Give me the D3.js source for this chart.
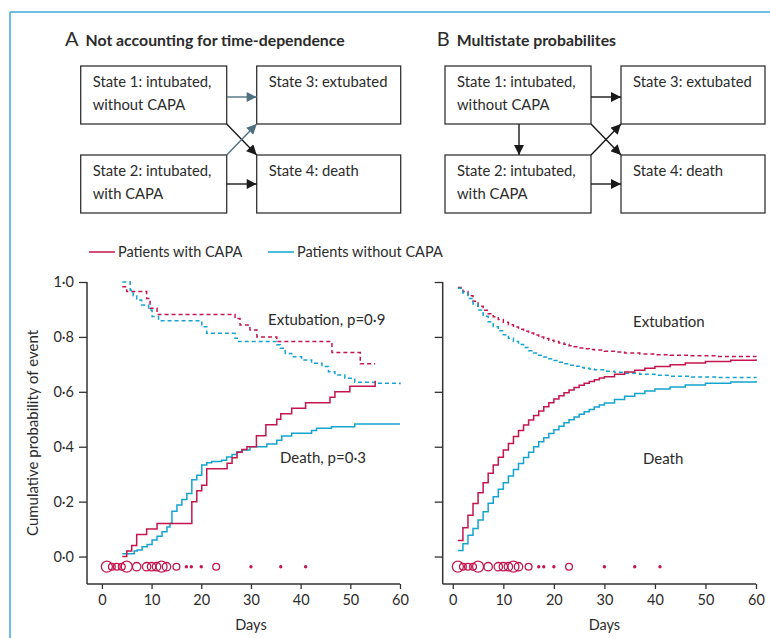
<!DOCTYPE html>
<html>
<head>
<meta charset="utf-8">
<script src="https://d3js.org/d3.v7.min.js"></script>
<style>
  body { margin: 0; background: #fff; }
  svg text { font-family: Lato, "Open Sans", sans-serif; fill: #2b2b2b; }
</style>
</head>
<body>
<svg id="chart" width="770" height="638"></svg>
<script>
// ---- data ----
const xTicks = [0, 10, 20, 30, 40, 50, 60];
const yTicks = [0, 0.2, 0.4, 0.6, 0.8, 1.0];

// panel A: Kaplan-Meier style, [day, cumulative probability]
const leftExtubCapa = [[4.1,0.983],[5,0.965],[9,0.94],[9.7,0.904],[11.1,0.882],[26.8,0.867],[27.8,0.843],
  [29.8,0.825],[31.2,0.80],[35.2,0.783],[46.3,0.743],[52,0.702],[55,0.702]];
const leftExtubNoCapa = [[4.1,1.0],[5.7,0.97],[6.3,0.95],[7,0.934],[8,0.916],[9.4,0.898],[10.1,0.874],[11.4,0.859],
  [20.1,0.837],[21.1,0.813],[26.8,0.795],[27.5,0.783],[35.2,0.771],[35.9,0.759],[36.9,0.74],[38.2,0.728],
  [40.2,0.716],[42.2,0.704],[44.3,0.692],[45.6,0.673],[46.9,0.661],[48.9,0.649],[50.9,0.635],[55,0.631],[60,0.628]];
const leftDeathCapa = [[4.1,0],[5,0.02],[6,0.04],[7,0.08],[9,0.1],[11.1,0.12],[18.1,0.2],[19.1,0.24],[20.1,0.26],
  [21.1,0.32],[25.2,0.34],[26.2,0.36],[27.2,0.38],[28.2,0.39],[29.2,0.40],[31.1,0.44],[33,0.48],[35.2,0.50],
  [36,0.52],[38.2,0.54],[41,0.56],[45.9,0.58],[46.9,0.60],[49.9,0.62],[55,0.64]];
const leftDeathNoCapa = [[4.1,0.01],[6.5,0.02],[7.1,0.024],[8.1,0.036],[9.1,0.044],[10.1,0.06],[11.1,0.074],
  [12.1,0.09],[13.1,0.108],[13.7,0.12],[14.1,0.165],[15.1,0.188],[16.1,0.208],[17.1,0.23],[18.1,0.28],
  [19.1,0.296],[20.1,0.333],[21.1,0.342],[22.1,0.346],[24.1,0.351],[25.1,0.363],[26.2,0.372],[27.2,0.382],
  [28.2,0.388],[29.8,0.4],[33.2,0.41],[35.2,0.424],[36.2,0.439],[38.2,0.449],[42.2,0.459],[43.2,0.467],
  [46.2,0.473],[50.9,0.483],[60,0.483]];

// panel B: multistate probabilities
const rightExtubCapa = [[1,0.98],[2,0.965],[3,0.95],[4,0.93],[5,0.912],[6,0.897],[7,0.884],[8,0.873],[9,0.863],
  [10,0.853],[11,0.844],[12,0.836],[13,0.828],[14,0.821],[15,0.814],[16,0.807],[17,0.8],[18,0.794],[19,0.788],
  [20,0.783],[21,0.778],[22,0.773],[23,0.768],[24,0.764],[25,0.76],[26,0.757],[27,0.754],[28,0.752],[30,0.748],
  [32,0.745],[34,0.741],[37,0.738],[40,0.735],[43,0.733],[47,0.731],[52,0.729],[60,0.728]];
const rightExtubNoCapa = [[1,0.977],[2,0.96],[3,0.94],[4,0.92],[5,0.898],[6,0.875],[7,0.855],[8,0.837],[9,0.822],
  [10,0.808],[11,0.795],[12,0.783],[13,0.772],[14,0.761],[15,0.75],[16,0.741],[17,0.733],[18,0.727],[19,0.72],
  [20,0.714],[21,0.708],[22,0.702],[23,0.697],[24,0.693],[25,0.689],[26,0.686],[27,0.683],[28,0.68],[30,0.675],
  [32,0.671],[34,0.668],[37,0.664],[40,0.66],[43,0.657],[47,0.654],[52,0.652],[60,0.65]];
const rightDeathCapa = [[1,0.058],[2,0.105],[3,0.15],[4,0.193],[5,0.232],[6,0.269],[7,0.303],[8,0.333],[9,0.362],
  [10,0.388],[11,0.412],[12,0.437],[13,0.459],[14,0.479],[15,0.497],[16,0.514],[17,0.53],[18,0.546],[19,0.56],
  [20,0.574],[21,0.586],[22,0.597],[23,0.607],[24,0.616],[25,0.624],[26,0.631],[27,0.638],[28,0.644],[29,0.65],
  [30,0.655],[32,0.664],[34,0.672],[36,0.679],[38,0.686],[40,0.692],[43,0.699],[46,0.705],[50,0.71],[55,0.715],[60,0.719]];
const rightDeathNoCapa = [[1,0.022],[2,0.047],[3,0.078],[4,0.102],[5,0.133],[6,0.163],[7,0.194],[8,0.218],[9,0.245],
  [10,0.269],[11,0.293],[12,0.317],[13,0.339],[14,0.361],[15,0.38],[16,0.4],[17,0.418],[18,0.433],[19,0.448],
  [20,0.462],[21,0.475],[22,0.487],[23,0.498],[24,0.508],[25,0.518],[26,0.527],[27,0.536],[28,0.545],[29,0.552],
  [30,0.559],[32,0.572],[34,0.584],[36,0.594],[38,0.603],[40,0.61],[43,0.618],[46,0.625],[50,0.631],[55,0.636],[60,0.639]];

// CAPA diagnosis times (marker size ~ number of patients)
const censorDays   = [1, 2, 3, 4, 5, 7, 9, 10, 11, 12, 13, 15, 17, 18, 20, 23, 30, 36, 41];
const censorCounts = [4, 2, 2, 2, 4, 3, 3, 3, 3, 4, 3, 2, 1, 1, 1, 2, 1, 1, 1];
const censorY = -0.037;

const RED = "#c4164c", BLUE = "#14a4d0", ARROW_GREY = "#4e7180";

const svg = d3.select("#chart");

// frame lines
svg.append("line").attr("x1", 10).attr("y1", 12).attr("x2", 770).attr("y2", 12)
  .attr("stroke", "#3fa9d6").attr("stroke-width", 1.5);
svg.append("line").attr("x1", 10).attr("y1", 12).attr("x2", 10).attr("y2", 638)
  .attr("stroke", "#3fa9d6").attr("stroke-width", 1.5);

// arrow markers
const defs = svg.append("defs");
[["arrBlack", "#1a1a1a"], ["arrGrey", ARROW_GREY]].forEach(([id, c]) => {
  defs.append("marker").attr("id", id).attr("viewBox", "0 0 10 10")
    .attr("refX", 10).attr("refY", 5).attr("markerWidth", 11).attr("markerHeight", 10)
    .attr("markerUnits", "userSpaceOnUse").attr("orient", "auto")
    .append("path").attr("d", "M0,0L10,5L0,10Z").attr("fill", c);
});

// ---- state diagrams ----
// bx = left edge of the boxes; box 1/2 width 146, gap 30, box 3/4 width 144
function diagram(tx, bx, letter, title, arrows) {
  const t = svg.append("text").attr("x", tx).attr("y", 46);
  t.append("tspan").text(letter).style("font-size", "20px");
  t.append("tspan").attr("dx", 7).text(title).style("font-size", "15.8px").style("font-weight", "bold");

  const g = svg.append("g").attr("transform", `translate(${bx},0)`);
  const boxes = [
    {x: 0, y: 66, w: 146, lines: ["State 1: intubated,", "without CAPA"]},
    {x: 0, y: 155, w: 146, lines: ["State 2: intubated,", "with CAPA"]},
    {x: 176, y: 66, w: 144, lines: ["State 3: extubated"]},
    {x: 176, y: 155, w: 144, lines: ["State 4: death"]}
  ];
  boxes.forEach(b => {
    g.append("rect").attr("x", b.x).attr("y", b.y).attr("width", b.w).attr("height", 58)
      .attr("fill", "none").attr("stroke", "#333").attr("stroke-width", 1.3);
    b.lines.forEach((l, i) => g.append("text").attr("x", b.x + 12).attr("y", b.y + 21 + i * 23)
      .style("font-size", "14.8px").text(l));
  });
  arrows.forEach(a => {
    g.append("line").attr("x1", a[0]).attr("y1", a[1]).attr("x2", a[2]).attr("y2", a[3])
      .attr("stroke", a[4] ? ARROW_GREY : "#1a1a1a").attr("stroke-width", 1.4)
      .attr("marker-end", a[4] ? "url(#arrGrey)" : "url(#arrBlack)");
  });
}
diagram(65, 80.7, "A", "Not accounting for time-dependence", [
  [146, 97, 176, 97, true], [146, 124, 176, 155, false],
  [146, 155, 176, 124, true], [146, 184, 176, 184, false]]);
diagram(436.7, 445, "B", "Multistate probabilites", [
  [146, 97, 176, 97, false], [146, 124, 176, 155, false],
  [146, 155, 176, 124, false], [146, 184, 176, 184, false], [74, 124, 74, 155, false]]);

// ---- legend ----
const legend = svg.append("g");
[["Patients with CAPA", RED, 89], ["Patients without CAPA", BLUE, 268]].forEach(([lab, c, x]) => {
  legend.append("line").attr("x1", x).attr("x2", x + 26).attr("y1", 252).attr("y2", 252)
    .attr("stroke", c).attr("stroke-width", 1.5);
  legend.append("text").attr("x", x + 29).attr("y", 257).style("font-size", "14.5px").text(lab);
});

// ---- KM panels ----
const y = d3.scaleLinear().domain([-0.1, 1.0]).range([584, 282]);
const fmt = d => d3.format(".1f")(d).replace(".", "\u00b7");

function panel(x, series, showYLabels, labels) {
  const g = svg.append("g");
  const yAxis = d3.axisLeft(y).tickValues(yTicks).tickSize(8).tickPadding(5)
    .tickFormat(showYLabels ? fmt : "");
  const ya = g.append("g").attr("transform", `translate(${x.range()[0]},0)`).call(yAxis);
  const xa = g.append("g").attr("transform", "translate(0,584)")
    .call(d3.axisBottom(x).tickValues(xTicks).tickSize(5).tickPadding(6));
  [ya, xa].forEach(a => {
    a.select(".domain").attr("stroke", "#333").attr("stroke-width", 1.5);
    a.selectAll(".tick line").attr("stroke", "#333").attr("stroke-width", 1.3);
    a.selectAll(".tick text").style("font-size", "14.5px").style("font-family", "Lato, sans-serif").attr("fill", "#2b2b2b");
  });
  ya.select(".domain").attr("d", `M0,${y(1.0)}V${y(-0.1)}`);
  xa.select(".domain").attr("d", `M${x.range()[0]},0H${x.range()[1]}`);

  const line = d3.line().x(d => x(d[0])).y(d => y(d[1])).curve(d3.curveStepAfter);
  series.forEach(s => {
    g.append("path").datum(s.data).attr("d", line).attr("fill", "none")
      .attr("stroke", s.color).attr("stroke-width", 1.5)
      .attr("stroke-dasharray", s.dash ? "4,3" : null);
  });

  const r = d3.scaleLinear().domain([2, 3, 4]).range([3.4, 4.2, 5.5]);
  censorDays.forEach((dd, i) => {
    const n = censorCounts[i];
    g.append("circle").attr("cx", x(dd)).attr("cy", y(censorY))
      .attr("r", n === 1 ? 1.7 : r(n))
      .attr("fill", n === 1 ? RED : "none")
      .attr("stroke", RED).attr("stroke-width", n === 1 ? 0 : 1.3);
  });

  labels.forEach(l => g.append("text").attr("x", l[0]).attr("y", l[1])
    .style("font-size", "15px").text(l[2]));
  g.append("text").attr("x", x(30)).attr("y", 630).attr("text-anchor", "middle")
    .style("font-size", "14.5px").text("Days");
}

const xLeft = d3.scaleLinear().domain([-3, 60]).range([87, 400]);
const xRight = d3.scaleLinear().domain([-2, 60]).range([442.7, 756]);

panel(xLeft, [
  {data: leftExtubCapa, color: RED, dash: true},
  {data: leftExtubNoCapa, color: BLUE, dash: true},
  {data: leftDeathNoCapa, color: BLUE},
  {data: leftDeathCapa, color: RED}
], true, [[268, 325, "Extubation, p=0\u00b79"], [280, 463, "Death, p=0\u00b73"]]);

panel(xRight, [
  {data: rightExtubCapa, color: RED, dash: true},
  {data: rightExtubNoCapa, color: BLUE, dash: true},
  {data: rightDeathNoCapa, color: BLUE},
  {data: rightDeathCapa, color: RED}
], false, [[633, 327, "Extubation"], [643, 464, "Death"]]);

svg.append("text").attr("transform", "translate(38,433) rotate(-90)")
  .attr("text-anchor", "middle").style("font-size", "15px")
  .text("Cumulative probability of event");
</script>
</body>
</html>
